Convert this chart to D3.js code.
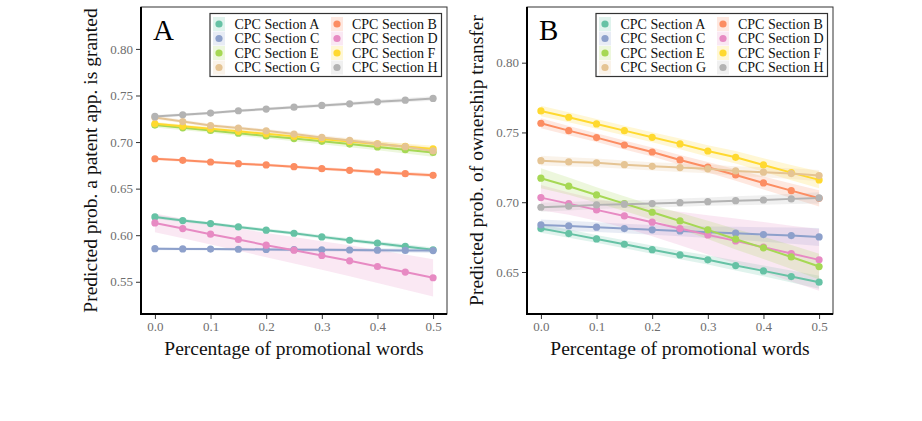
<!DOCTYPE html>
<html><head><meta charset="utf-8">
<script src="https://cdn.jsdelivr.net/npm/d3@7"></script>
<style>body{margin:0;background:#fff}svg{display:block}text{font-family:"Liberation Serif","Times New Roman",Times,serif}</style>
</head><body><svg id="c" width="922" height="421"></svg>
<script>
// ---------------- data ----------------
const promo = [0, 0.05, 0.10, 0.15, 0.20, 0.25, 0.30, 0.35, 0.40, 0.45, 0.50];
const sections = ["CPC Section A","CPC Section B","CPC Section C","CPC Section D","CPC Section E","CPC Section F","CPC Section G","CPC Section H"];
const palette = ["#66c2a5","#fc8d62","#8da0cb","#e78ac3","#a6d854","#ffd92f","#e5c494","#b3b3b3"];
const xTicks = [0, 0.1, 0.2, 0.3, 0.4, 0.5];
const yTicksGrant = [0.55, 0.60, 0.65, 0.70, 0.75, 0.80];
const yTicksTransfer = [0.65, 0.70, 0.75, 0.80];

// Panel A: predicted probability a patent application is granted
const grantA = [0.6196,0.6157,0.6125,0.6089,0.6054,0.6021,0.5982,0.5946,0.5914,0.5879,0.5843];
const grantB = [0.6821,0.6804,0.6786,0.6768,0.6754,0.6736,0.6714,0.6696,0.6679,0.6661,0.6643];
const grantC = [0.5855,0.5853,0.5851,0.5849,0.5847,0.5845,0.5843,0.5841,0.5839,0.5837,0.5835];
const grantD = [0.6132,0.6071,0.6011,0.5954,0.5893,0.5839,0.5782,0.5725,0.5664,0.5604,0.5543];
const grantE = [0.7182,0.7153,0.7124,0.7095,0.7066,0.7037,0.7008,0.6978,0.6948,0.6918,0.6888];
const grantF = [0.7196,0.7169,0.7142,0.7115,0.7088,0.7061,0.7034,0.7007,0.6980,0.6953,0.6926];
const grantG = [0.7264,0.7220,0.7178,0.7150,0.7121,0.7086,0.7050,0.7018,0.6982,0.6950,0.6905];
const grantH = [0.7275,0.7293,0.7311,0.7336,0.7354,0.7375,0.7393,0.7411,0.7432,0.7450,0.7468];
// confidence half-widths, panel A
const grantCiA = [0.0020,0.0019,0.0018,0.0018,0.0018,0.0019,0.0020,0.0021,0.0022,0.0024,0.0026];
const grantCiB = [0.0016,0.0015,0.0015,0.0015,0.0015,0.0016,0.0017,0.0018,0.0019,0.0020,0.0022];
const grantCiC = [0.0016,0.0015,0.0015,0.0015,0.0016,0.0017,0.0018,0.0020,0.0022,0.0024,0.0026];
const grantCiD = [0.0100,0.0105,0.0110,0.0120,0.0130,0.0142,0.0154,0.0166,0.0178,0.0190,0.0200];
const grantCiE = [0.0026,0.0025,0.0025,0.0026,0.0027,0.0029,0.0031,0.0034,0.0037,0.0041,0.0045];
const grantCiF = [0.0020,0.0019,0.0019,0.0020,0.0021,0.0022,0.0024,0.0026,0.0028,0.0031,0.0034];
const grantCiG = [0.0020,0.0019,0.0019,0.0019,0.0020,0.0021,0.0022,0.0024,0.0026,0.0028,0.0030];
const grantCiH = [0.0016,0.0015,0.0015,0.0015,0.0016,0.0017,0.0018,0.0019,0.0021,0.0023,0.0025];

// Panel B: predicted probability of ownership transfer
const transferA = [0.6811,0.6775,0.6737,0.6699,0.6660,0.6622,0.6587,0.6546,0.6508,0.6467,0.6427];
const transferB = [0.7566,0.7513,0.7463,0.7410,0.7360,0.7303,0.7251,0.7195,0.7138,0.7083,0.7028];
const transferC = [0.6837,0.6830,0.6821,0.6811,0.6802,0.6794,0.6785,0.6778,0.6768,0.6761,0.6751];
const transferD = [0.7033,0.6990,0.6945,0.6902,0.6857,0.6811,0.6766,0.6723,0.6678,0.6632,0.6587];
const transferE = [0.7172,0.7115,0.7052,0.6990,0.6928,0.6866,0.6802,0.6735,0.6673,0.6608,0.6539];
const transferF = [0.7654,0.7609,0.7561,0.7513,0.7465,0.7418,0.7367,0.7322,0.7267,0.7212,0.7160];
const transferG = [0.7298,0.7289,0.7282,0.7269,0.7257,0.7248,0.7239,0.7224,0.7215,0.7205,0.7191];
const transferH = [0.6964,0.6971,0.6981,0.6986,0.6990,0.6997,0.7004,0.7011,0.7016,0.7024,0.7031];
// confidence half-widths, panel B
const transferCiA = [0.0030,0.0029,0.0028,0.0028,0.0029,0.0031,0.0033,0.0036,0.0039,0.0043,0.0047];
const transferCiB = [0.0035,0.0033,0.0032,0.0032,0.0033,0.0035,0.0038,0.0042,0.0047,0.0052,0.0058];
const transferCiC = [0.0040,0.0037,0.0035,0.0034,0.0035,0.0037,0.0041,0.0046,0.0052,0.0058,0.0065];
const transferCiD = [0.0090,0.0080,0.0078,0.0085,0.0100,0.0120,0.0140,0.0160,0.0180,0.0200,0.0222];
const transferCiE = [0.0072,0.0062,0.0055,0.0052,0.0053,0.0058,0.0065,0.0073,0.0080,0.0086,0.0092];
const transferCiF = [0.0038,0.0036,0.0035,0.0035,0.0036,0.0038,0.0041,0.0045,0.0049,0.0054,0.0060];
const transferCiG = [0.0035,0.0033,0.0031,0.0030,0.0030,0.0031,0.0032,0.0034,0.0036,0.0038,0.0040];
const transferCiH = [0.0032,0.0030,0.0029,0.0028,0.0028,0.0029,0.0030,0.0032,0.0034,0.0037,0.0040];

const xTitle = "Percentage of promotional words";
const caption = "Figure 6.   The association between promotional words and patent outcomes, by CPC section";

// ---------------- drawing ----------------
const svg = d3.select("#c");
svg.append("rect").attr("width",922).attr("height",421).attr("fill","#fff");

function panel(o){
  const g = svg.append("g");
  const x = d3.scaleLinear().domain([-0.025, 0.525]).range([o.left, o.right]);
  const y = d3.scaleLinear().domain(o.yDomain).range([o.bottom, o.top]);
  const fits = o.fits, cis = o.cis;

  // ribbons
  fits.forEach((f,k)=>{
    const rows = promo.map((p,i)=>({p, lo:f[i]-cis[k][i], hi:f[i]+cis[k][i]}));
    g.append("path").datum(rows)
      .attr("d", d3.area().x(d=>x(d.p)).y0(d=>y(d.lo)).y1(d=>y(d.hi)))
      .attr("fill", palette[k]).attr("fill-opacity",0.2);
  });
  // lines
  fits.forEach((f,k)=>{
    g.append("path").datum(promo.map((p,i)=>[p,f[i]]))
      .attr("d", d3.line().x(d=>x(d[0])).y(d=>y(d[1])))
      .attr("fill","none").attr("stroke",palette[k]).attr("stroke-width",2);
  });
  // points
  fits.forEach((f,k)=>{
    g.selectAll(null).data(promo.map((p,i)=>[p,f[i]])).enter().append("circle")
      .attr("cx",d=>x(d[0])).attr("cy",d=>y(d[1])).attr("r",3.6).attr("fill",palette[k]);
  });

  // panel border (top/right) and axis lines
  g.append("rect").attr("x",o.left).attr("y",o.top).attr("width",o.right-o.left).attr("height",o.bottom-o.top)
    .attr("fill","none").attr("stroke","#333").attr("stroke-width",1);
  g.append("line").attr("x1",o.left).attr("x2",o.left).attr("y1",o.top).attr("y2",o.bottom+1)
    .attr("stroke","#000").attr("stroke-width",2);
  g.append("line").attr("x1",o.left-1).attr("x2",o.right).attr("y1",o.bottom).attr("y2",o.bottom)
    .attr("stroke","#000").attr("stroke-width",2);

  // axes
  const ya = g.append("g").attr("transform",`translate(${o.left-1},0)`)
    .call(d3.axisLeft(y).tickValues(o.yTicks).tickFormat(d3.format(".2f")).tickSize(4).tickPadding(3));
  const xa = g.append("g").attr("transform",`translate(0,${o.bottom+1})`)
    .call(d3.axisBottom(x).tickValues(xTicks).tickFormat(d3.format(".1f")).tickSize(4).tickPadding(3));
  [ya,xa].forEach(a=>{
    a.attr("font-family",'"Liberation Serif","Times New Roman",serif');
    a.select(".domain").remove();
    a.selectAll(".tick line").attr("stroke","#333").attr("stroke-width",1);
    a.selectAll(".tick text").attr("fill","#6e6e6e").style("font-size","13px")
      .style("font-family",'"Liberation Serif","Times New Roman",serif');
  });

  // titles
  g.append("text").attr("x",(o.left+o.right)/2).attr("y",355).attr("text-anchor","middle")
    .style("font-size","19.5px").attr("fill","#111").text(xTitle);
  g.append("text").attr("transform",`translate(${o.yTitleX},${(o.top+o.bottom)/2}) rotate(-90)`)
    .attr("text-anchor","middle").style("font-size","19.5px").attr("fill","#111").text(o.yTitle);
  g.append("text").attr("x",o.left+12).attr("y",40).style("font-size","29px").attr("fill","#000").text(o.label);

  // legend
  const lx = o.legendX, ly = 13.5, lw = 231.5, lh = 63;
  const lg = g.append("g");
  lg.append("rect").attr("x",lx).attr("y",ly).attr("width",lw).attr("height",lh)
    .attr("fill","#fff").attr("stroke","#333").attr("stroke-width",1.2);
  sections.forEach((s,k)=>{
    const col = k%2, row = Math.floor(k/2);
    const cx = lx + 9 + col*118, cy = ly + 10.5 + row*14.5;
    lg.append("rect").attr("x",cx-6).attr("y",cy-7).attr("width",12).attr("height",14)
      .attr("fill",palette[k]).attr("fill-opacity",0.2);
    lg.append("circle").attr("cx",cx).attr("cy",cy).attr("r",3.6).attr("fill",palette[k]);
    lg.append("text").attr("x",lx+24.5+col*117.5).attr("y",cy+4.8).style("font-size","14px")
      .attr("fill","#111").text(s);
  });
}

panel({left:141, right:447, top:7, bottom:314, yDomain:[0.5154,0.845], yTicks:yTicksGrant,
  fits:[grantA,grantB,grantC,grantD,grantE,grantF,grantG,grantH],
  cis:[grantCiA,grantCiB,grantCiC,grantCiD,grantCiE,grantCiF,grantCiG,grantCiH],
  label:"A", yTitle:"Predicted prob. a patent app. is granted", yTitleX:97, legendX:210});

panel({left:527, right:833, top:7, bottom:314, yDomain:[0.6199,0.8399], yTicks:yTicksTransfer,
  fits:[transferA,transferB,transferC,transferD,transferE,transferF,transferG,transferH],
  cis:[transferCiA,transferCiB,transferCiC,transferCiD,transferCiE,transferCiF,transferCiG,transferCiH],
  label:"B", yTitle:"Predicted prob. of ownership transfer", yTitleX:483, legendX:596});

svg.append("text").attr("x",-2).attr("y",434.5).style("font-size","17px").style("font-weight","bold")
  .attr("fill","#666").text(caption);
</script></body></html>
